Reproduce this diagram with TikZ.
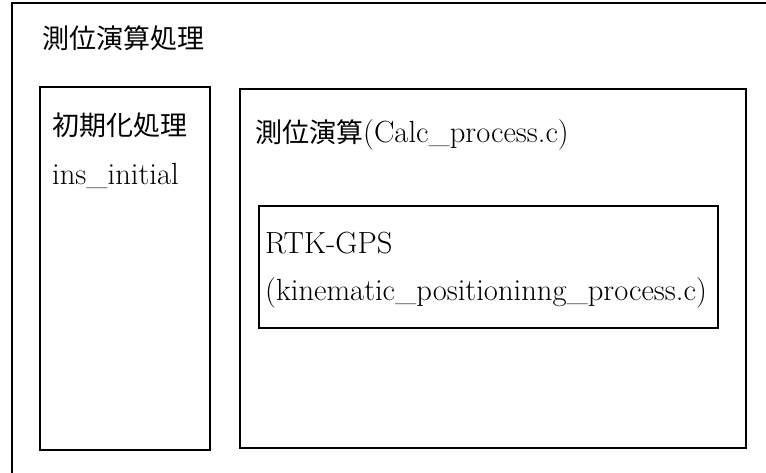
\documentclass[tikz,border=0pt]{standalone}
\usepackage{fontspec}
\newfontfamily\jp{Noto Sans CJK JP}
\tikzset{
  px/.style={x=1pt,y=-1pt},
  box/.style={draw=black, line width=1.7pt, fill=none},
  lbl/.style={anchor=base west, inner sep=0pt, font=\fontsize{30.6}{34}\selectfont},
}
\begin{document}
\begin{tikzpicture}[px]
\useasboundingbox (0,0) rectangle (766,472);
\fill[white] (0,0) rectangle (766,472);
% outer frame (extends beyond the right and bottom edges)
\draw[box] (12,3) rectangle (800,500);
\coordinate (outerNW) at (12,3);
% boxes
\node[box, anchor=north west, inner sep=0pt, minimum width=170pt, minimum height=363pt] (init) at (39,86) {};
\node[box, anchor=north west, inner sep=0pt, minimum width=506pt, minimum height=359pt] (calc) at (239,88) {};
\node[box, anchor=north west, inner sep=0pt, minimum width=459pt, minimum height=122pt] (rtk) at (258,205) {};
% texts
\node[lbl] (tTitle) at (42,48) {\jp\fontsize{27}{30}\selectfont 測位演算処理};
\node[lbl] (tInit) at (52.5,135) {\jp\fontsize{27}{30}\selectfont 初期化処理};
\node[lbl] (tInitFn) at (52,184) {ins\_initial};
\node[lbl] (tCalc) at (255,142.7) {{\jp\fontsize{27}{30}\selectfont 測位演算}(Calc\_process.c)};
\node[lbl] (tRtk) at (265,253) {RTK-GPS};
\node[lbl] (tRtkFn) at (265,300) {(kinematic\_positioninng\_process.c)};
\end{tikzpicture}
\end{document}
